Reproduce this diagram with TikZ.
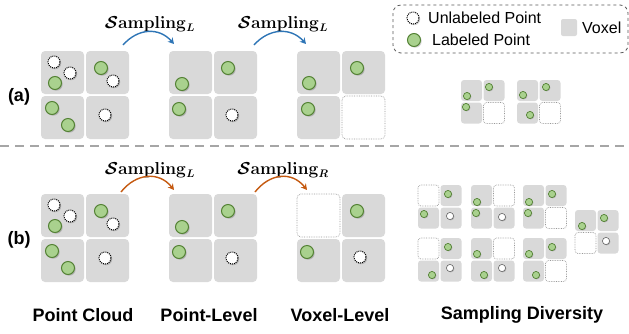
\documentclass[tikz,border=0pt]{standalone}
\usepackage[no-math]{fontspec}
\setmainfont{Liberation Sans}
\usepackage{bm}
\usepackage{tikz}
\usetikzlibrary{arrows.meta}
\definecolor{vgray}{HTML}{D9D9D9}
\definecolor{lgreen}{HTML}{A9D18E}
\definecolor{dgreen}{HTML}{548235}
\definecolor{cBlue}{HTML}{2E75B6}
\definecolor{cOrange}{HTML}{C55A11}
\definecolor{sepgray}{HTML}{A6A6A6}

\begin{document}
\begin{tikzpicture}[x=1pt, y=-1pt,
  voxel/.style={fill=vgray, rounded corners=4pt},
  emptyvox/.style={draw=vgray!70!black, densely dotted, line width=0.7pt, fill=white, rounded corners=4pt},
  lab/.style={fill=lgreen, draw=dgreen, line width=1pt},
  unlab/.style={fill=white, draw=black, densely dotted, line width=1pt},
  slab/.style={fill=lgreen, draw=dgreen, line width=0.7pt},
  sunlab/.style={fill=white, draw=black!60, line width=0.6pt},
  shade/.style={fill=black, opacity=0.18},
  samp/.style={line width=1.4pt, -{Stealth[length=6pt,width=6.5pt]}},
  samplabel/.style={font=\fontsize{16}{19}\selectfont},
  tag/.style={font=\fontsize{18}{21}\selectfont\bfseries},
  legtext/.style={font=\fontsize{16}{19}\selectfont, anchor=west, inner sep=0pt}]
  \useasboundingbox (0,0) rectangle (629,333);
  % big voxels and points
  \def\bv(#1,#2){\fill[voxel] (#1,#2) rectangle ++(43,43);}
  \def\ev(#1,#2){\draw[emptyvox] (#1,#2) rectangle ++(43,43);}
  \def\lp(#1,#2){\fill[shade] (#1,#2) ++(1.2,1.2) circle (6.5pt); \filldraw[lab] (#1,#2) circle (6.5pt);}
  \def\up(#1,#2){\fill[shade] (#1,#2) ++(1.2,1.2) circle (6pt); \filldraw[unlab] (#1,#2) circle (6pt);}
  % small voxels and points
  \def\sv(#1,#2){\fill[voxel, rounded corners=3pt] (#1,#2) rectangle ++(21,21);}
  \def\se(#1,#2){\draw[emptyvox, rounded corners=3pt] (#1,#2) rectangle ++(21,21);}
  \def\sl(#1,#2){\fill[shade] (#1,#2) ++(0.8,0.8) circle (3.6pt); \filldraw[slab] (#1,#2) circle (3.6pt);}
  \def\su(#1,#2){\fill[shade] (#1,#2) ++(0.8,0.8) circle (3.6pt); \filldraw[sunlab] (#1,#2) circle (3.6pt);}
  \def\cloud{\bv(0,0) \bv(45,0) \bv(0,45) \bv(45,45)
    \up(13,11) \up(29,22) \lp(14,32) \lp(60,17) \up(72,30)
    \lp(11,57) \lp(27,74) \up(64,64)}
  \def\ptlevel{\bv(0,0) \bv(45,0) \bv(0,45) \bv(45,45)
    \lp(13,33) \lp(59,17) \lp(10,58) \up(63,64)}

  % legend
  \draw[black!65, dashed, line width=0.8pt, rounded corners=8pt] (393,5) rectangle (628,53);
  \up(413,18)
  \lp(414,40)
  \fill[voxel, rounded corners=2pt] (561,19) rectangle (577,36);
  \node[legtext] (legU) at (428,18) {Unlabeled Point};
  \node[legtext] (legL) at (432,40) {Labeled Point};
  \node[legtext] (legV) at (582,28) {Voxel};

  % (a) label-guided sampling
  \node[tag] (tagA) at (19,97) {(a)};
  \begin{scope}[shift={(41,51)}] \cloud \end{scope}
  \begin{scope}[shift={(169,51)}] \ptlevel \end{scope}
  \begin{scope}[shift={(297,51)}]
    \bv(0,0) \bv(45,0) \bv(0,45) \ev(45,45)
    \lp(12,32) \lp(60,17) \lp(11,58)
  \end{scope}
  \node[samplabel] (sA1) at (150,24) {$\bm{\mathcal{S}}\mathbf{ampling}_{\bm{L}}$};
  \node[samplabel] (sA2) at (283,24) {$\bm{\mathcal{S}}\mathbf{ampling}_{\bm{L}}$};
  \coordinate (a1s) at (123,45); \coordinate (a1e) at (174,44);
  \coordinate (a2s) at (254,45); \coordinate (a2e) at (306,44);
  \draw[samp, cBlue] (a1s) .. controls +(15,-17) and +(-15,-17) .. (a1e);
  \draw[samp, cBlue] (a2s) .. controls +(15,-17) and +(-15,-17) .. (a2e);
  \begin{scope}[shift={(461,80)}]
    \sv(0,0) \sv(22.5,0) \sv(0,22.5) \se(22.5,22.5)
    \sl(6,16) \sl(28,7) \sl(5,27)
  \end{scope}
  \begin{scope}[shift={(517,80)}]
    \sv(0,0) \sv(22.5,0) \sv(0,22.5) \se(22.5,22.5)
    \sl(6,15) \sl(29,7) \sl(13,35)
  \end{scope}

  \draw[sepgray, dashed, dash pattern=on 9pt off 6pt, line width=1.3pt] (0,146) -- (629,146);

  % (b) random sampling
  \node[tag] (tagB) at (19,240) {(b)};
  \begin{scope}[shift={(41,194)}] \cloud \end{scope}
  \begin{scope}[shift={(169,194)}] \ptlevel \end{scope}
  \begin{scope}[shift={(297,194)}]
    \ev(0,0) \bv(45,0) \bv(0,45) \bv(45,45)
    \lp(60,17) \lp(10,58) \up(63,63)
  \end{scope}
  \node[samplabel] (sB1) at (150,170) {$\bm{\mathcal{S}}\mathbf{ampling}_{\bm{L}}$};
  \node[samplabel] (sB2) at (283,170) {$\bm{\mathcal{S}}\mathbf{ampling}_{\bm{R}}$};
  \coordinate (b1s) at (121,192); \coordinate (b1e) at (174,190);
  \coordinate (b2s) at (255,192); \coordinate (b2e) at (307,190);
  \draw[samp, cOrange] (b1s) .. controls +(15,-19) and +(-15,-19) .. (b1e);
  \draw[samp, cOrange] (b2s) .. controls +(15,-19) and +(-15,-19) .. (b2e);
  % sampling diversity
  \begin{scope}[shift={(418,185)}]
    \se(0,0) \sv(22.5,0) \sv(0,22.5) \sv(22.5,22.5)
    \sl(30,9) \sl(6,29) \su(32,31)
  \end{scope}
  \begin{scope}[shift={(471,185)}]
    \sv(0,0) \se(22.5,0) \sv(0,22.5) \sv(22.5,22.5)
    \sl(6,17) \sl(5,28) \su(31,32)
  \end{scope}
  \begin{scope}[shift={(523,185)}]
    \sv(0,0) \sv(22.5,0) \sv(0,22.5) \se(22.5,22.5)
    \sl(6,17) \sl(29,9) \sl(5,28)
  \end{scope}
  \begin{scope}[shift={(418,238)}]
    \se(0,0) \sv(22.5,0) \sv(0,22.5) \sv(22.5,22.5)
    \sl(30,9) \sl(14,37) \su(32,30)
  \end{scope}
  \begin{scope}[shift={(471,238)}]
    \sv(0,0) \se(22.5,0) \sv(0,22.5) \sv(22.5,22.5)
    \sl(6,16) \sl(13,37) \su(31,30)
  \end{scope}
  \begin{scope}[shift={(523,238)}]
    \sv(0,0) \sv(22.5,0) \sv(0,22.5) \se(22.5,22.5)
    \sl(6,16) \sl(29,9) \sl(13,37)
  \end{scope}
  \begin{scope}[shift={(575,210)}]
    \sv(0,0) \sv(22.5,0) \se(0,22.5) \sv(22.5,22.5)
    \sl(7,16) \sl(29,8) \su(31,31)
  \end{scope}

  % column titles
  \node[tag] (tCloud) at (83,315) {Point Cloud};
  \node[tag] (tPoint) at (209,315) {Point-Level};
  \node[tag] (tVoxel) at (340,315) {Voxel-Level};
  \node[tag] (tDiv) at (522,315) {Sampling Diversity};
\end{tikzpicture}
\end{document}
